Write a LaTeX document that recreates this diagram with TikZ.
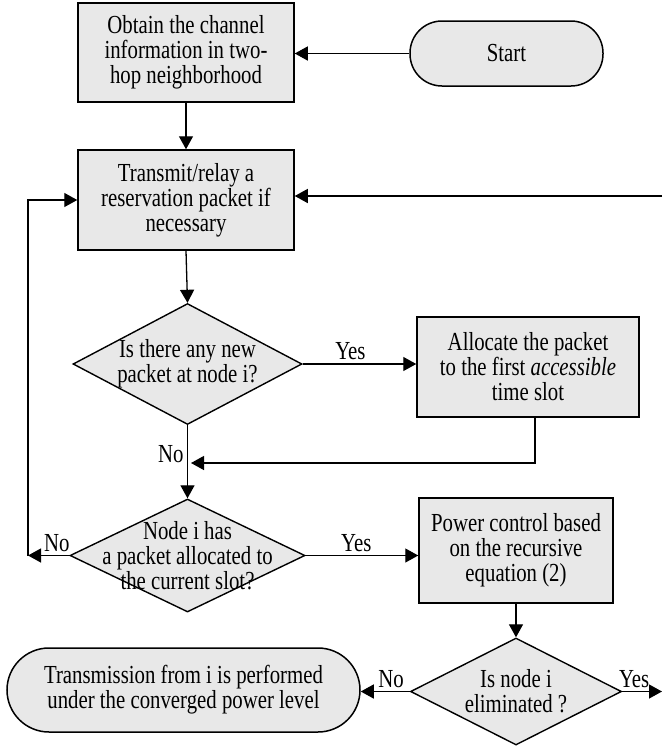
\documentclass[tikz,border=0pt]{standalone}
\usepackage{fontspec}
\setmainfont{Liberation Serif}[FakeStretch=0.8]
\usetikzlibrary{shapes.geometric,arrows.meta}
\definecolor{boxgray}{RGB}{232,232,232}
\tikzset{
  block/.style={draw, line width=1.5pt, fill=boxgray, align=center, inner sep=0pt},
  terminal/.style={block, rounded corners=#1},
  decision/.style={diamond, draw, line width=1.4pt, fill=boxgray, inner sep=0pt},
  flow/.style={line width=1.3pt, -{Triangle[length=13pt,width=14pt]}},
}

\begin{document}
\begin{tikzpicture}[x=1pt, y=-1pt, font=\fontsize{26}{25}\selectfont]
\useasboundingbox (0,0) rectangle (662,747);

\node[block, minimum width=216pt, minimum height=99pt] (obtain) at (186,52.5) {Obtain the channel\\information in two-\\hop neighborhood};
\node[terminal=32pt, minimum width=193pt, minimum height=65pt] (start) at (506.5,53.5) {Start};
\node[block, minimum width=216pt, minimum height=100pt] (transmit) at (186,200) {Transmit/relay a\\reservation packet if\\necessary};
\node[decision, minimum width=229pt, minimum height=121pt,
      label={[align=center]center:{Is there any new\\packet at node i?}}] (newpkt) at (187.5,364) {};
\node[block, minimum width=222pt, minimum height=100pt] (allocate) at (528,367) {Allocate the packet\\to the first \textit{accessible}\\time slot};
\node[decision, minimum width=235pt, minimum height=113pt,
      label={[align=center]center:{Node i has\\a packet allocated to\\the current slot?}}] (hasslot) at (187.5,555.5) {};
\node[block, minimum width=194pt, minimum height=105pt] (power) at (516,550.5) {Power control based\\on the recursive\\equation (2)};
\node[decision, minimum width=211pt, minimum height=107pt,
      label={[align=center]center:{Is node i\\eliminated ?}}] (elim) at (516,691.5) {};
\node[terminal=42pt, minimum width=353pt, minimum height=84pt] (transmission) at (183.5,690) {Transmission from i is performed\\under the converged power level};

\coordinate (rin) at (662,196);
\coordinate (merge) at (191,463);
\coordinate (loop) at (28,555.5);
\coordinate (rout) at (662,691.5);

\path[flow] (start.west) edge (start.west -| obtain.east);
\path[flow] (obtain.south) edge (transmit.north);
\path[flow] (rin) edge (rin -| transmit.east);
\path[flow] (transmit.south) edge (newpkt.north);
\path[flow] (newpkt.east) edge node[above, pos=0.42] {Yes} (newpkt.east -| allocate.west);
\path[flow] (newpkt.south) edge node[left, pos=0.39] {No} (hasslot.north);
\draw[flow] ([xshift=7pt]allocate.south) |- (merge);
\draw[flow] (hasslot.west) -- node[above, pos=0.3] {No} (loop);
\draw[flow] (loop) |- (transmit.west);
\path[flow] (hasslot.east) edge node[above, pos=0.45] {Yes} (hasslot.east -| power.west);
\path[flow] (power.south) edge (elim.north);
\path[flow] (elim.west) edge node[above, pos=0.38] {No} (elim.west -| transmission.east);
\path[flow] (elim.east) edge node[above, pos=0.3] {Yes} (rout);
\end{tikzpicture}
\end{document}
